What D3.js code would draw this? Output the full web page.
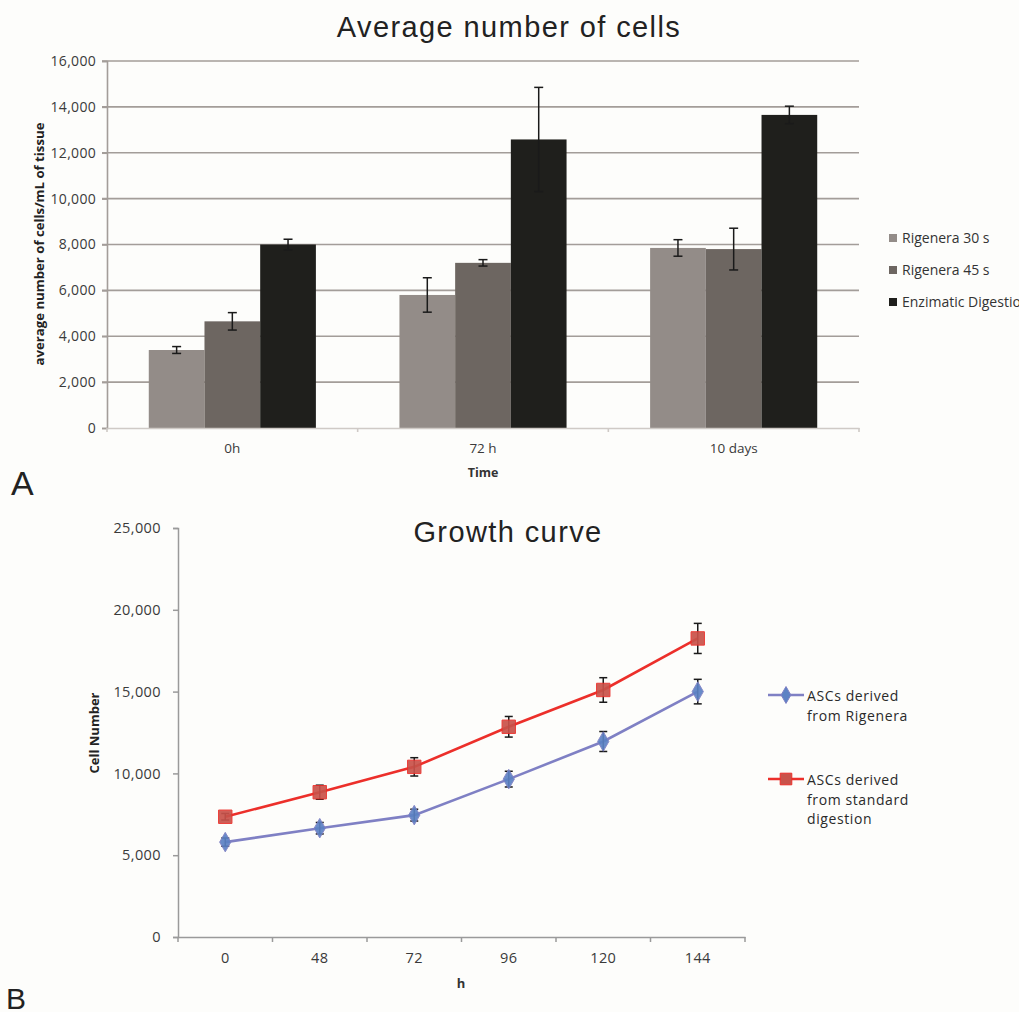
<!DOCTYPE html>
<html>
<head>
<meta charset="utf-8">
<script src="https://cdn.jsdelivr.net/npm/d3@7"></script>
<style>
  body { margin: 0; background: #fdfdfb; }
  svg { display: block; }
  .tick text { fill: #3a3a3a; }
</style>
</head>
<body>
<div id="chart"></div>
<script>
// --- Panel A data: average number of cells ---
const timeCats = ["0h", "72 h", "10 days"];
const barSeries = ["Rigenera 30 s", "Rigenera 45 s", "Enzimatic Digestion"];
const barColors = ["#938c88", "#6d6661", "#1f1f1c"];
const rig30Mean = [3400, 5800, 7850];
const rig30Err = [150, 750, 360];
const rig45Mean = [4650, 7200, 7800];
const rig45Err = [380, 140, 910];
const enzMean = [8000, 12580, 13650];
const enzErr = [230, 2270, 380];
const barTicks = [0, 2000, 4000, 6000, 8000, 10000, 12000, 14000, 16000];

// --- Panel B data: growth curve ---
const hours = ["0", "48", "72", "96", "120", "144"];
const rigMean = [5800, 6650, 7450, 9650, 11950, 15000];
const rigErr = [250, 350, 360, 480, 610, 750];
const stdMean = [7350, 8850, 10400, 12850, 15100, 18250];
const stdErr = [200, 430, 560, 630, 750, 920];
const growthTicks = [0, 5000, 10000, 15000, 20000, 25000];

const width = 1019, height = 1012;
const fmt = d3.format(",");
const labelFont = "'Open Sans', sans-serif";
const titleFont = "'Liberation Sans', Arial, sans-serif";

const svg = d3.select("#chart").append("svg")
    .attr("width", width)
    .attr("height", height);

// ================= Panel A =================
const a = { left: 107, right: 859, top: 61, bottom: 428 };

const x0 = d3.scaleBand().domain(timeCats).range([a.left, a.right]);
const x1 = d3.scaleBand().domain(barSeries)
    .range([x0.bandwidth() / 6, x0.bandwidth() * 5 / 6]);
const yA = d3.scaleLinear().domain([0, 16000]).range([a.bottom, a.top]);

// gridlines
svg.append("g")
    .selectAll("line")
    .data(barTicks.slice(1))
    .join("line")
    .attr("x1", a.left - 5).attr("x2", a.right)
    .attr("y1", d => yA(d)).attr("y2", d => yA(d))
    .attr("stroke", "#a39d99").attr("stroke-width", 1.6);

const yAxisA = svg.append("g")
    .attr("transform", `translate(${a.left},0)`)
    .call(d3.axisLeft(yA).tickValues(barTicks).tickFormat(fmt).tickSize(5).tickPadding(6));
yAxisA.select(".domain").attr("stroke", "#a39d99").attr("stroke-width", 1.6);
yAxisA.selectAll(".tick line").attr("stroke", "#a39d99").attr("stroke-width", 1.6);
yAxisA.selectAll("text").attr("font-family", labelFont).attr("font-size", 14).attr("letter-spacing", 0.3);

const barData = [
    { name: barSeries[0], mean: rig30Mean, err: rig30Err, color: barColors[0] },
    { name: barSeries[1], mean: rig45Mean, err: rig45Err, color: barColors[1] },
    { name: barSeries[2], mean: enzMean, err: enzErr, color: barColors[2] }
];
const flatBars = [];
barData.forEach(s => timeCats.forEach((c, i) =>
    flatBars.push({ cat: c, name: s.name, v: s.mean[i], e: s.err[i], color: s.color })));

svg.append("g").selectAll("rect")
    .data(flatBars)
    .join("rect")
    .attr("x", d => x0(d.cat) + x1(d.name))
    .attr("y", d => yA(d.v))
    .attr("width", x1.bandwidth())
    .attr("height", d => yA(0) - yA(d.v))
    .attr("fill", d => d.color);

// error bars A
const errA = svg.append("g").attr("stroke", "#1a1a1a").attr("stroke-width", 1.5);
flatBars.forEach(d => {
    const cx = x0(d.cat) + x1(d.name) + x1.bandwidth() / 2;
    errA.append("line").attr("x1", cx).attr("x2", cx)
        .attr("y1", yA(d.v + d.e)).attr("y2", yA(d.v - d.e));
    [d.v + d.e, d.v - d.e].forEach(v =>
        errA.append("line").attr("x1", cx - 4.5).attr("x2", cx + 4.5)
            .attr("y1", yA(v)).attr("y2", yA(v)));
});

// x axis A
const xAxisA = svg.append("g")
    .attr("transform", `translate(0,${a.bottom})`)
    .call(d3.axisBottom(x0).tickSize(0).tickPadding(15));
xAxisA.select(".domain").attr("stroke", "#cfcac6").attr("stroke-width", 1.6);
xAxisA.selectAll("text").attr("font-family", labelFont).attr("font-size", 13.5);
svg.append("g").selectAll("line")
    .data([a.left, ...timeCats.map(c => x0(c) + x0.bandwidth())])
    .join("line")
    .attr("x1", d => d).attr("x2", d => d)
    .attr("y1", a.bottom).attr("y2", a.bottom + 4)
    .attr("stroke", "#cfcac6").attr("stroke-width", 1.6);

svg.append("text")
    .attr("x", 509).attr("y", 37)
    .attr("text-anchor", "middle")
    .attr("font-family", titleFont)
    .attr("font-size", 29).attr("letter-spacing", 1.4)
    .attr("fill", "#222")
    .text("Average number of cells");

svg.append("text")
    .attr("x", 483).attr("y", 477)
    .attr("text-anchor", "middle")
    .attr("font-family", labelFont).attr("font-weight", "bold")
    .attr("font-size", 12.5).attr("fill", "#333")
    .text("Time");

svg.append("text")
    .attr("transform", `translate(44,244) rotate(-90)`)
    .attr("text-anchor", "middle")
    .attr("font-family", labelFont).attr("font-weight", "bold")
    .attr("font-size", 13.2).attr("fill", "#222")
    .text("average number of cells/mL of tissue");

// legend A (last label runs off the right edge, as in the source figure)
const legA = svg.append("g").attr("transform", "translate(889,242)");
barData.forEach((s, i) => {
    const g = legA.append("g").attr("transform", `translate(0,${i * 32})`);
    g.append("rect").attr("x", 0).attr("y", -8).attr("width", 8).attr("height", 8).attr("fill", s.color);
    g.append("text").attr("x", 13).attr("y", 1)
        .attr("font-family", labelFont).attr("font-size", 14).attr("fill", "#333")
        .text(s.name);
});

svg.append("text")
    .attr("x", 11).attr("y", 495)
    .attr("font-family", titleFont)
    .attr("font-size", 34).attr("fill", "#222")
    .text("A");

// ================= Panel B =================
const b = { left: 178, right: 745, top: 528, bottom: 937 };

const xB = d3.scaleBand().domain(hours).range([b.left, b.right]);
const yB = d3.scaleLinear().domain([0, 25000]).range([b.bottom, b.top]);

const yAxisB = svg.append("g")
    .attr("transform", `translate(${b.left},0)`)
    .call(d3.axisLeft(yB).tickValues(growthTicks).tickFormat(fmt).tickSize(5).tickPadding(12));
yAxisB.selectAll(".domain, .tick line").attr("stroke", "#9a9a9a").attr("stroke-width", 1.5);
yAxisB.selectAll("text").attr("font-family", labelFont).attr("font-size", 14.5).attr("letter-spacing", 0.4);

const xAxisB = svg.append("g")
    .attr("transform", `translate(0,${b.bottom})`)
    .call(d3.axisBottom(xB).tickSize(0).tickPadding(16));
xAxisB.select(".domain").attr("stroke", "#9a9a9a").attr("stroke-width", 1.5);
xAxisB.selectAll("text").attr("font-family", labelFont).attr("font-size", 14.5).attr("letter-spacing", 0.4);
svg.append("g").selectAll("line")
    .data([b.left, ...hours.map(h => xB(h) + xB.bandwidth())])
    .join("line")
    .attr("x1", d => d).attr("x2", d => d)
    .attr("y1", b.bottom).attr("y2", b.bottom + 5)
    .attr("stroke", "#9a9a9a").attr("stroke-width", 1.5);

const cxB = h => xB(h) + xB.bandwidth() / 2;
const growth = [
    { name: ["ASCs derived", "from Rigenera"], mean: rigMean, err: rigErr, line: "#7f80c4", fill: "#5c82c4", shape: d3.symbolDiamond, size: 110 },
    { name: ["ASCs derived", "from standard", "digestion"], mean: stdMean, err: stdErr, line: "#ec2f2a", fill: "#c9524a", shape: d3.symbolSquare, size: 180 }
];

const lineGen = d3.line().x(d => cxB(d.h)).y(d => yB(d.v));

growth.forEach(s => {
    const pts = hours.map((h, i) => ({ h, v: s.mean[i], e: s.err[i] }));
    svg.append("path").datum(pts)
        .attr("d", lineGen)
        .attr("fill", "none").attr("stroke", s.line).attr("stroke-width", 2.6);
    const eg = svg.append("g").attr("stroke", "#1a1a1a").attr("stroke-width", 1.5);
    pts.forEach(d => {
        const cx = cxB(d.h);
        eg.append("line").attr("x1", cx).attr("x2", cx)
            .attr("y1", yB(d.v + d.e)).attr("y2", yB(d.v - d.e));
        [d.v + d.e, d.v - d.e].forEach(v =>
            eg.append("line").attr("x1", cx - 4).attr("x2", cx + 4)
                .attr("y1", yB(v)).attr("y2", yB(v)));
    });
    svg.append("g").selectAll("path")
        .data(pts)
        .join("path")
        .attr("transform", d => `translate(${cxB(d.h)},${yB(d.v)})`)
        .attr("d", d3.symbol().type(s.shape).size(s.size))
        .attr("fill", s.fill).attr("stroke", s.line).attr("stroke-width", 1)
        .attr("opacity", 0.92);
});

// legend B
const legY = [695, 779];
growth.forEach((s, i) => {
    const g = svg.append("g").attr("transform", `translate(768,${legY[i]})`);
    g.append("line").attr("x1", 0).attr("x2", 36).attr("y1", 0).attr("y2", 0)
        .attr("stroke", s.line).attr("stroke-width", 2.6);
    g.append("path").attr("transform", "translate(18,0)")
        .attr("d", d3.symbol().type(s.shape).size(s.size * 0.75))
        .attr("fill", s.fill).attr("stroke", s.line);
    s.name.forEach((ln, k) => g.append("text")
        .attr("x", 39).attr("y", 6 + k * 19.6)
        .attr("font-family", labelFont).attr("font-size", 14)
        .attr("letter-spacing", 0.6).attr("fill", "#2a2a2a")
        .text(ln));
});

svg.append("text")
    .attr("x", 508).attr("y", 542)
    .attr("text-anchor", "middle")
    .attr("font-family", titleFont)
    .attr("font-size", 29).attr("letter-spacing", 1.4)
    .attr("fill", "#222")
    .text("Growth curve");

svg.append("text")
    .attr("x", 461).attr("y", 988)
    .attr("text-anchor", "middle")
    .attr("font-family", labelFont).attr("font-weight", "bold")
    .attr("font-size", 13).attr("fill", "#333")
    .text("h");

svg.append("text")
    .attr("transform", `translate(99,733) rotate(-90)`)
    .attr("text-anchor", "middle")
    .attr("font-family", labelFont).attr("font-weight", "bold")
    .attr("font-size", 13).attr("fill", "#222")
    .text("Cell Number");

svg.append("text")
    .attr("x", 6).attr("y", 1009)
    .attr("font-family", titleFont)
    .attr("font-size", 30).attr("fill", "#222")
    .text("B");
</script>
</body>
</html>
